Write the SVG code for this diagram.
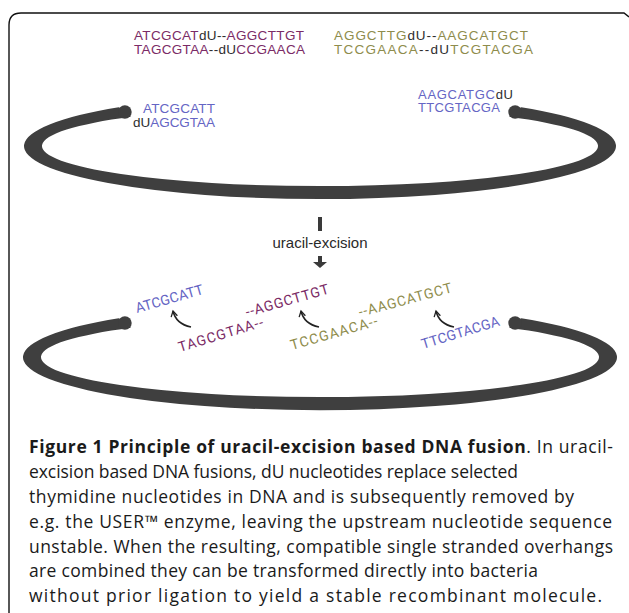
<svg xmlns="http://www.w3.org/2000/svg" width="629" height="613" viewBox="0 0 629 613">
<style>
.seq{font-family:"Liberation Sans",Arial,sans-serif;font-size:13.5px}
.rseq{font-family:Roboto,"Liberation Sans",sans-serif;font-size:14px}
.pu{fill:#7b2b66}.ol{fill:#8e8c4c}.bl{fill:#6565c4}.dk{fill:#2e2e2e}
.ring{fill:#3f3f3f;stroke:none}
.cap{font-family:"Open Sans","Liberation Sans",sans-serif;font-size:17.5px;fill:#1a1a1a}
.con{fill:none;stroke:#222;stroke-width:1.6}
</style>
<defs>
<marker id="chev" viewBox="0 0 10 10" refX="8" refY="5" markerWidth="8" markerHeight="8" orient="auto" markerUnits="userSpaceOnUse">
<path d="M1,1 L8,5 L1,9" fill="none" stroke="#222" stroke-width="1.6"/>
</marker>
</defs>
<rect width="629" height="613" fill="#ffffff"/>
<path d="M9,613 V25 Q9,13 21,13 H624 L629,17" fill="none" stroke="#111" stroke-width="1.4"/>

<g id="top-left-seq">
<text class="seq" x="134" y="40" textLength="170"><tspan class="pu">ATCGCAT</tspan><tspan class="dk">dU--</tspan><tspan class="pu">AGGCTTGT</tspan></text>
<text class="seq" x="134" y="54" textLength="171"><tspan class="pu">TAGCGTAA</tspan><tspan class="dk">--dU</tspan><tspan class="pu">CCGAACA</tspan></text>
</g>
<g id="top-right-seq">
<text class="seq" x="334" y="40" textLength="194"><tspan class="ol">AGGCTTG</tspan><tspan class="dk">dU--</tspan><tspan class="ol">AAGCATGCT</tspan></text>
<text class="seq" x="334" y="54" textLength="199"><tspan class="ol">TCCGAACA</tspan><tspan class="dk">--dU</tspan><tspan class="ol">TCGTACGA</tspan></text>
</g>

<g id="vector-top">
<path class="ring" d="M118.7,107.2 A296,53 0 1 0 521.3,107.2 L509,116.7 A278,40 0 1 1 131,116.7 Z"/>
<circle class="ring" cx="124.9" cy="112" r="6.8"/>
<circle class="ring" cx="515.1" cy="112" r="6.8"/>
<text class="seq bl" x="143" y="113" textLength="72">ATCGCATT</text>
<text class="seq" x="133" y="127" textLength="82"><tspan class="dk">dU</tspan><tspan class="bl">AGCGTAA</tspan></text>
<text class="seq" x="418" y="98.5" textLength="95" style="font-size:13px"><tspan class="bl">AAGCATGC</tspan><tspan class="dk">dU</tspan></text>
<text class="seq bl" x="418" y="112" textLength="82" style="font-size:13px">TTCGTACGA</text>
</g>

<g id="excision-step">
<rect x="318" y="217" width="4" height="14" fill="#3a3a3a"/>
<text x="320" y="248" text-anchor="middle" font-family="'Liberation Sans',Arial,sans-serif" font-size="15" fill="#2a2a2a">uracil-excision</text>
<rect x="318" y="256" width="4" height="6" fill="#3a3a3a"/>
<path d="M313,262 H327 L320,268 Z" fill="#3a3a3a"/>
</g>

<g id="vector-bottom">
<path class="ring" d="M118.7,318.2 A297,53 0 1 0 521.3,318.2 L509,327.7 A279,40 0 1 1 131,327.7 Z"/>
<circle class="ring" cx="124.9" cy="323" r="6.8"/>
<circle class="ring" cx="515.1" cy="323" r="6.8"/>
</g>

<g id="fragments">
<text class="rseq bl" transform="translate(137,313) rotate(-16)" textLength="70">ATCGCATT</text>
<text class="rseq pu" transform="translate(180,352) rotate(-17)" textLength="88">TAGCGTAA--</text>
<text class="rseq pu" transform="translate(247,317) rotate(-16)" textLength="86">--AGGCTTGT</text>
<text class="rseq ol" transform="translate(292,350) rotate(-16)" textLength="90">TCCGAACA--</text>
<text class="rseq ol" transform="translate(360,317) rotate(-15)" textLength="96">--AAGCATGCT</text>
<text class="rseq bl" transform="translate(423,349) rotate(-17)" textLength="81">TTCGTACGA</text>
</g>

<g id="connectors">
<path class="con" d="M191,327 Q176,324 173,311" marker-end="url(#chev)"/>
<path class="con" d="M319,327 Q304,324 301,311" marker-end="url(#chev)"/>
<path class="con" d="M454,327 Q439,324 436,311" marker-end="url(#chev)"/>
</g>

<g id="caption">
<text class="cap" x="29" y="453" textLength="584"><tspan font-weight="bold">Figure 1 Principle of uracil-excision based DNA fusion</tspan>. In uracil-</text>
<text class="cap" x="29" y="478" textLength="489">excision based DNA fusions, dU nucleotides replace selected</text>
<text class="cap" x="29" y="503" textLength="545">thymidine nucleotides in DNA and is subsequently removed by</text>
<text class="cap" x="29" y="528" textLength="583">e.g. the USER™ enzyme, leaving the upstream nucleotide sequence</text>
<text class="cap" x="29" y="553" textLength="584">unstable. When the resulting, compatible single stranded overhangs</text>
<text class="cap" x="29" y="577" textLength="509">are combined they can be transformed directly into bacteria</text>
<text class="cap" x="29" y="602" textLength="573">without prior ligation to yield a stable recombinant molecule.</text>
</g>
</svg>
